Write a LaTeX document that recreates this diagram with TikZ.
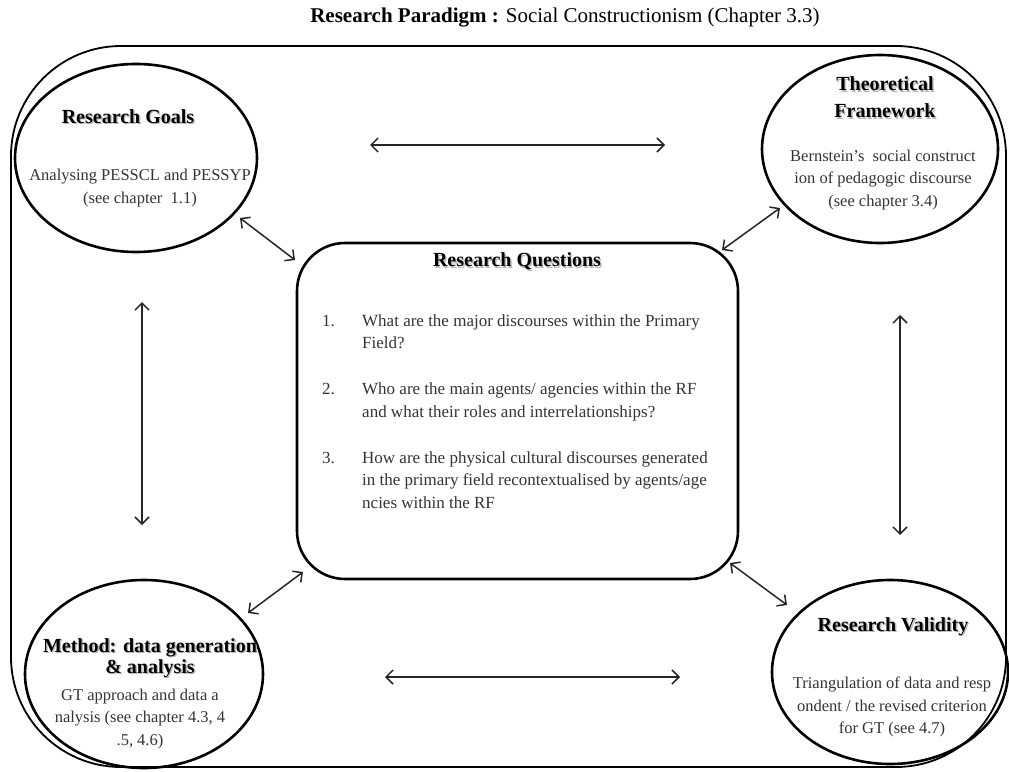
\documentclass[tikz,border=0pt]{standalone}
\usepackage{fontspec}
\setmainfont{Liberation Serif}
\usetikzlibrary{shapes.geometric,arrows.meta}
% bold heading with a soft grey drop shadow
\newcommand\shd[1]{\leavevmode\rlap{\textcolor{black!28}{\hspace{1.4pt}\raisebox{-1.4pt}{#1}}}#1}
\tikzset{
  bubble/.style={ellipse, draw, line width=2.6pt, inner sep=0pt},
  heading/.style={align=center, inner sep=0pt, font=\fontsize{20}{27}\selectfont\bfseries},
  body/.style={align=center, inner sep=0pt, text=black!80, font=\fontsize{16.5}{22.5}\selectfont},
  link/.style={line width=1.5pt, black!85, {Straight Barb[length=7pt,width=14pt,line width=1.5pt]}-{Straight Barb[length=7pt,width=14pt,line width=1.5pt]}}
}
\begin{document}
\begin{tikzpicture}[x=1pt,y=-1pt]
\useasboundingbox (0,0) rectangle (1009,771);

% title
\node[inner sep=0pt, font=\fontsize{21}{24}\selectfont] (title) at (565,18)
  {\textbf{Research Paradigm :} Social Constructionism (Chapter 3.3)};

% outer frame
\draw[line width=1.8pt, rounded corners=110pt] (11,46) rectangle (1006,767);

% four ellipses
\node[bubble, minimum width=242pt, minimum height=188pt] (goals) at (136,158) {};
\node[bubble, minimum width=236pt, minimum height=188pt] (theory) at (880,149) {};
\node[bubble, minimum width=238pt, minimum height=188pt] (method) at (144,674) {};
\node[bubble, minimum width=236pt, minimum height=184pt] (validity) at (890,672) {};

\node[heading] (goalsH) at (128,117) {\shd{Research Goals}};
\node[body] (goalsB) at (140,188) {Analysing PESSCL and PESSYP\\(see chapter \ 1.1)};

\node[heading] (theoryH) at (885,98) {\shd{Theoretical}\\\shd{Framework}};
\node[body] (theoryB) at (883,180) {Bernstein's \ social construct\\ion of pedagogic discourse\\(see chapter 3.4)};

\node[heading, font=\fontsize{20}{21}\selectfont\bfseries] (methodH) at (150,659) {\shd{Method: data generation}\\\shd{\& analysis}};
\node[body] (methodB) at (140,719) {GT approach and data a\\nalysis (see chapter 4.3, 4\\.5, 4.6)};

\node[heading] (validityH) at (893,627) {\shd{Research Validity}};
\node[body] (validityB) at (892,707) {Triangulation of data and resp\\ondent / the revised criterion\\for GT (see 4.7)};

% central box
\draw[line width=2.6pt, rounded corners=48pt] (297,243) rectangle (738,579);
\node[heading] (rqH) at (517,262) {\shd{Research Questions}};
\node[body, align=left, anchor=north west, font=\fontsize{17}{22.5}\selectfont] (rqL) at (322,314)
  {\makebox[40pt][l]{1.}What are the major discourses within the Primary\\
   \hspace*{40pt}Field?\\[23.5pt]
   \makebox[40pt][l]{2.}Who are the main agents/ agencies within the RF\\
   \hspace*{40pt}and what their roles and interrelationships?\\[23.5pt]
   \makebox[40pt][l]{3.}How are the physical cultural discourses generated\\
   \hspace*{40pt}in the primary field recontextualised by agents/age\\
   \hspace*{40pt}ncies within the RF};

% connector end points
\coordinate (topL) at (370,145);   \coordinate (topR) at (665,145);
\coordinate (botL) at (385,677);   \coordinate (botR) at (680,677);
\coordinate (leftT) at (142,302);  \coordinate (leftB) at (142,525);
\coordinate (rightT) at (900,315); \coordinate (rightB) at (900,535);
\coordinate (gA) at (240,218);     \coordinate (gB) at (295,260);
\coordinate (tA) at (780,208);     \coordinate (tB) at (722,250);
\coordinate (mA) at (248,613);     \coordinate (mB) at (303,572);
\coordinate (vA) at (730,563);     \coordinate (vB) at (787,605);

\draw[link] (topL) -- (topR);
\draw[link] (botL) -- (botR);
\draw[link] (leftT) -- (leftB);
\draw[link] (rightT) -- (rightB);
\draw[link] (gA) -- (gB);
\draw[link] (tA) -- (tB);
\draw[link] (mA) -- (mB);
\draw[link] (vA) -- (vB);
\end{tikzpicture}
\end{document}
